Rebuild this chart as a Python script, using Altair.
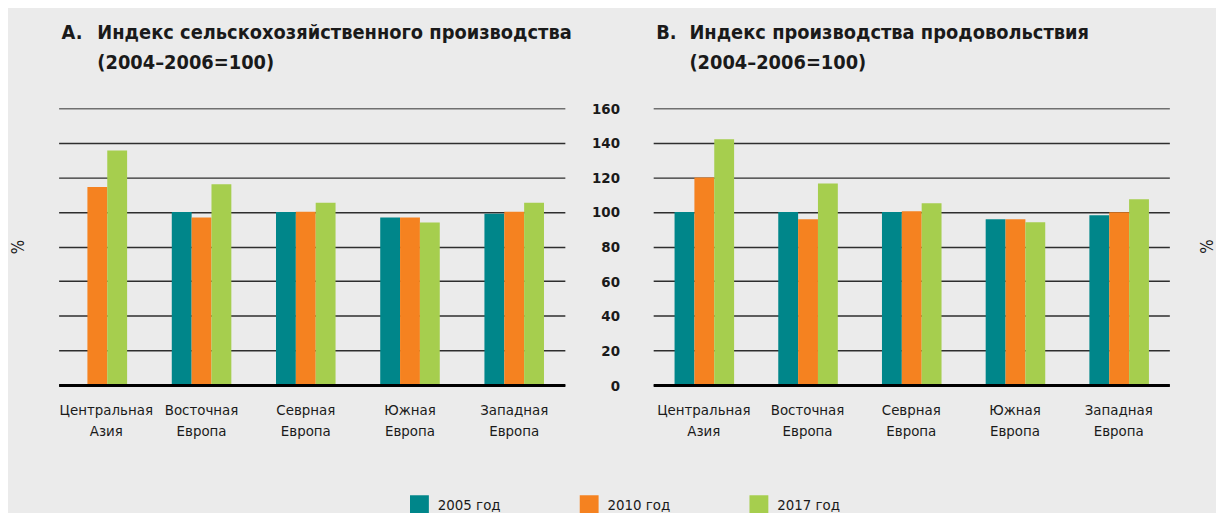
import altair as alt
import pandas as pd

FONT = "Noto Sans Condensed, DejaVu Sans Condensed, sans-serif"

regions = ["Центральная Азия", "Восточная Европа", "Севрная Европа", "Южная Европа", "Западная Европа"]
years = ["2005 год", "2010 год", "2017 год"]
colors = ["#00868A", "#F58220", "#A6CE4E"]

agri_2005 = [None, 100.0, 100.0, 96.8, 99.0]
agri_2010 = [114.4, 96.8, 100.2, 96.8, 100.2]
agri_2017 = [135.5, 116.0, 105.3, 93.9, 105.3]

food_2005 = [100.0, 100.0, 100.0, 95.8, 98.1]
food_2010 = [120.0, 95.8, 100.5, 95.8, 99.8]
food_2017 = [142.1, 116.4, 105.0, 94.1, 107.3]

y_ticks = [0, 20, 40, 60, 80, 100, 120, 140, 160]

title_a = "Индекс сельскохозяйственного производства\n(2004–2006=100)"
title_b = "Индекс производства продовольствия\n(2004–2006=100)"


def long_df(s05, s10, s17):
    rows = []
    for i, r in enumerate(regions):
        for y, s in zip(years, (s05, s10, s17)):
            if s[i] is not None:
                rows.append({"region": r, "year": y, "value": s[i]})
    return pd.DataFrame(rows)


df_a = long_df(agri_2005, agri_2010, agri_2017)
df_b = long_df(food_2005, food_2010, food_2017)

grid_color = {"condition": {"test": "datum.value === 160", "value": "#707070"}, "value": "#2e2e2e"}


def x_axis(first_shift):
    return alt.Axis(
        title=None, labelAngle=0, ticks=False, domain=True, domainColor="#000000",
        domainWidth=3, labelExpr="split(datum.label, ' ')", labelFont=FONT,
        labelFontSize=15, labelColor="#1a1a1a", labelLineHeight=21, labelPadding=18,
        zindex=1, labelLimit=200,
        labelOffset={"condition": {"test": "datum.value === 'Центральная Азия'",
                                   "value": first_shift}, "value": 0},
    )


color = alt.Color(
    "year:N", scale=alt.Scale(domain=years, range=colors),
    legend=alt.Legend(
        title=None, orient="none", direction="horizontal", legendX=354, legendY=390,
        symbolType="square", symbolSize=361, symbolStrokeWidth=0, symbolOpacity=1,
        labelFont=FONT, labelFontSize=15, labelColor="#1a1a1a", labelOffset=9,
        columnPadding=79, padding=0,
    ),
)


def panel(df, width, pad_inner, pad_outer, align, y_axis, title_text, letter, dx, shift):
    bars = alt.Chart(df).mark_bar(size=20).encode(
        x=alt.X("region:N", sort=regions, axis=x_axis(shift),
                scale=alt.Scale(paddingInner=pad_inner, paddingOuter=pad_outer, align=align)),
        xOffset=alt.XOffset("year:N", scale=alt.Scale(domain=years, paddingInner=0, paddingOuter=0)),
        y=alt.Y("value:Q", scale=alt.Scale(domain=[0, 160], nice=False), axis=y_axis),
        color=color,
    )
    lab = alt.Chart(pd.DataFrame({"t": [letter]})).mark_text(
        font=FONT, fontSize=20, fontWeight="bold", align="left", baseline="alphabetic",
        color="#1a1a1a",
    ).encode(text="t:N", x=alt.value(3), y=alt.value(-70))
    ttl = alt.Chart(pd.DataFrame({"t": [title_text]})).mark_text(
        font=FONT, fontSize=20, fontWeight="bold", align="left", baseline="alphabetic",
        color="#1a1a1a", lineBreak="\n", lineHeight=31,
    ).encode(text="t:N", x=alt.value(dx), y=alt.value(-70))
    return alt.layer(bars, lab, ttl).properties(width=width, height=279)


y_axis_a = alt.Axis(
    values=y_ticks, labels=False, ticks=False, domain=False, grid=True,
    gridColor=grid_color, gridWidth=1.5, title="%", titleFont=FONT, titleFontSize=17,
    titleFontWeight="normal", titleColor="#1a1a1a", titleAngle=270, titleX=-40,
    titleY=139.5, titleAlign="center", titleBaseline="middle",
)
y_axis_b = alt.Axis(
    values=y_ticks, labels=True, ticks=False, domain=False, grid=True,
    gridColor=grid_color, gridWidth=1.5, title=None, labelFont=FONT,
    labelFontSize=15, labelFontWeight="bold", labelColor="#1a1a1a", labelPadding=34,
)

panel_a = panel(df_a, 510, 0.4286, 0.143, 0.3, y_axis_a, title_a, "A.", 39, 9)
pct_b = alt.Chart(pd.DataFrame({"t": ["%"]})).mark_text(
    font=FONT, fontSize=17, angle=270, align="center", baseline="middle", color="#1a1a1a"
).encode(text="t:N", x=alt.value(558.5), y=alt.value(139.5))
panel_b = panel(df_b, 520, 0.435, 0.206, 0.5, y_axis_b, title_b, "B.", 36.5, 0)
panel_b = alt.layer(panel_b, pct_b)

chart = alt.hconcat(panel_a, panel_b, spacing=89, bounds="flush").properties(
    background="#EBEBEB",
    padding={"left": 2, "top": 13, "right": 0, "bottom": 0},
).configure_view(stroke=None)

chart.save("out.html", embed_options={"renderer": "svg", "actions": False})
